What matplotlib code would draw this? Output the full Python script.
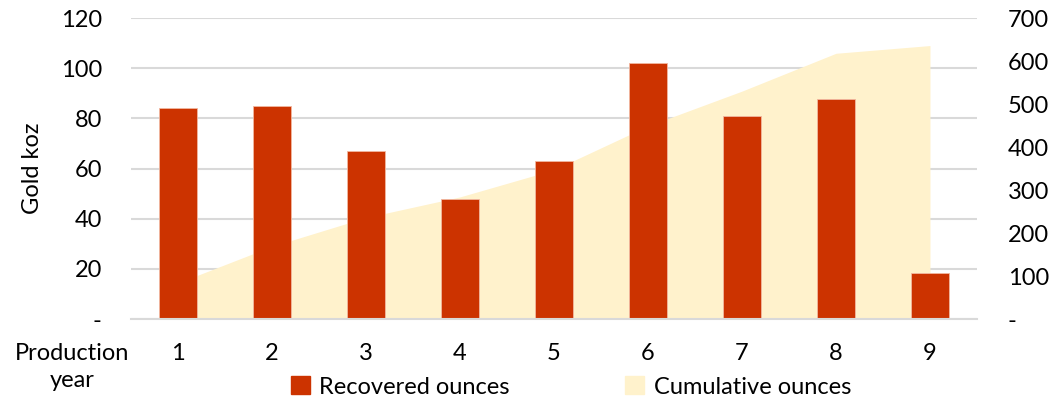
import numpy as np
import matplotlib.pyplot as plt
from matplotlib.patches import Patch

# Data
years = ['1', '2', '3', '4', '5', '6', '7', '8', '9']
recovered = [84.2, 84.8, 67.0, 47.8, 63.0, 101.9, 81.1, 87.6, 18.3]
cumulative = [84, 169, 236, 284, 347, 449, 530, 618, 636]
left_ticks = [0, 20, 40, 60, 80, 100, 120]
left_labels = ['-', '20', '40', '60', '80', '100', '120']
right_ticks = [0, 100, 200, 300, 400, 500, 600, 700]
right_labels = ['-', '100', '200', '300', '400', '500', '600', '700']

bar_color = '#CC3300'
area_color = '#FFF2CC'
grid_color = '#D9D9D9'
text_color = '#000000'

plt.rcParams['font.family'] = ['Lato', 'DejaVu Sans']
fs = 17

fig = plt.figure(figsize=(10.53, 4.03), dpi=100)
pos = [0.1244, 0.2084, 0.8034, 0.7469]
x = np.arange(len(years))

# bottom layer: left scale, gridlines and left labels
ax = fig.add_axes(pos)
ax.set_ylim(0, 120)
ax.set_xlim(-0.5, len(years) - 0.5)
ax.set_yticks(left_ticks)
ax.set_yticklabels(left_labels, fontsize=fs)
ax.set_xticks(x)
ax.set_xticklabels(years, fontsize=fs)
ax.grid(axis='y', color=grid_color, lw=1.5)
ax.set_ylabel('Gold koz', fontsize=fs, labelpad=13)

# middle layer: cumulative area on the right scale
ax2 = ax.twinx()
ax2.fill_between(x, 0, cumulative, color=area_color, lw=0)
ax2.set_ylim(0, 700)
ax2.set_yticks(right_ticks)
ax2.set_yticklabels(right_labels, fontsize=fs)

# top layer: bars on the left scale
ax3 = fig.add_axes(pos, sharex=ax)
ax3.patch.set_visible(False)
ax3.bar(x, recovered, width=0.4, color=bar_color, edgecolor='#F2B8A0', lw=0.6)
ax3.set_ylim(0, 120)
ax3.set_yticks([])
ax3.tick_params(axis='x', labelbottom=False)

for a in (ax, ax2, ax3):
    for s in a.spines.values():
        s.set_visible(False)
    a.tick_params(length=0, colors=text_color)
ax3.spines['bottom'].set_visible(True)
ax3.spines['bottom'].set_color(grid_color)
ax3.spines['bottom'].set_linewidth(1.5)
ax.tick_params(axis='y', pad=21)
ax.tick_params(axis='x', pad=17)
ax2.tick_params(axis='y', pad=22)

fig.text(72 / 1053, 1 - 367 / 403, 'Production\nyear', fontsize=fs, ha='center', va='center',
         linespacing=1.35)

handles = [Patch(color=bar_color, label='Recovered ounces'),
           Patch(color=area_color, label='Cumulative ounces')]
fig.legend(handles=handles, loc='center', bbox_to_anchor=(571 / 1053, 1 - 387 / 403), ncol=2,
           frameon=False, fontsize=fs, handlelength=0.8, handleheight=0.8, handletextpad=0.4,
           columnspacing=4.9, borderpad=0)

fig.savefig('out.png', dpi=100)
